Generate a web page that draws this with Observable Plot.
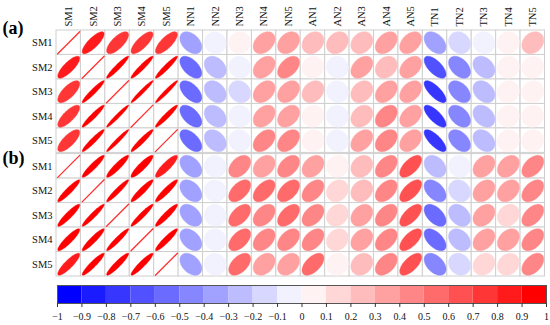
<!DOCTYPE html>
<html><head><meta charset="utf-8">
<script src="https://cdn.jsdelivr.net/npm/d3@7"></script>
<script src="https://cdn.jsdelivr.net/npm/@observablehq/plot@0.6"></script>
<style>body{margin:0;background:#fff} svg{display:block}</style>
</head><body><div id="chart"></div><script>
const rowLabels = ["SM1","SM2","SM3","SM4","SM5"];
const colLabels = ["SM1","SM2","SM3","SM4","SM5","NN1","NN2","NN3","NN4","NN5",
                   "AN1","AN2","AN3","AN4","AN5","TN1","TN2","TN3","TN4","TN5"];
const panelLabels = ["(a)","(b)"];

// panel (a): correlation of SM1..SM5 (rows) with each column
const panelA = [
  [1, 0.8, 0.72, 0.77, 0.75, -0.4, -0.05, 0.05, 0.35, 0.3, 0.22, 0.22, 0.22, 0.38, 0.38, -0.4, -0.15, -0.05, 0.05, 0.22],
  [0.8, 1, 0.95, 0.95, 0.95, -0.55, -0.3, -0.05, 0.35, 0.45, 0.05, -0.05, 0.38, 0.22, 0.38, -0.65, -0.42, -0.3, 0.05, 0.05],
  [0.72, 0.95, 1, 0.97, 0.97, -0.55, -0.3, -0.15, 0.35, 0.35, 0.25, -0.05, 0.25, 0.38, 0.38, -0.75, -0.42, -0.3, 0.05, 0.05],
  [0.77, 0.95, 0.97, 1, 0.95, -0.55, -0.3, -0.05, 0.35, 0.35, 0.05, -0.05, 0.25, 0.4, 0.38, -0.75, -0.42, -0.3, 0.05, 0.05],
  [0.75, 0.95, 0.97, 0.95, 1, -0.55, -0.3, -0.05, 0.42, 0.42, 0.05, -0.05, 0.38, 0.4, 0.38, -0.75, -0.42, -0.3, 0.05, 0.05]
];
// panel (b)
const panelB = [
  [1, 0.93, 0.92, 0.9, 0.87, -0.4, -0.05, 0.4, 0.3, 0.42, 0.32, 0.05, 0.2, 0.45, 0.62, -0.3, -0.05, 0.32, 0.32, 0.45],
  [0.93, 1, 0.95, 0.93, 0.93, -0.4, -0.05, 0.52, 0.52, 0.5, 0.45, 0.18, 0.2, 0.45, 0.62, -0.45, -0.15, 0.32, 0.32, 0.45],
  [0.92, 0.95, 1, 0.95, 0.93, -0.4, -0.05, 0.52, 0.42, 0.52, 0.43, 0.18, 0.3, 0.45, 0.65, -0.52, -0.3, 0.32, 0.18, 0.48],
  [0.9, 0.93, 0.95, 1, 0.93, -0.4, -0.05, 0.52, 0.42, 0.45, 0.45, 0.18, 0.3, 0.45, 0.65, -0.55, -0.3, 0.35, 0.32, 0.45],
  [0.87, 0.93, 0.93, 0.93, 1, -0.4, -0.05, 0.5, 0.32, 0.32, 0.55, 0.05, 0.2, 0.45, 0.65, -0.45, -0.15, 0.18, 0.18, 0.45]
];
const barTicks = [-1,-0.9,-0.8,-0.7,-0.6,-0.5,-0.4,-0.3,-0.2,-0.1,0,0.1,0.2,0.3,0.4,0.5,0.6,0.7,0.8,0.9,1];

// ---- derived ----
const thresholds = barTicks.slice(1, -1);
const ramp = d3.piecewise(d3.interpolateRgb, ["#0000ff", "#ffffff", "#ff0000"]);
const palette = d3.range(20).map(i => d3.color(ramp(i / 19)).formatHex());
const colorScale = {type: "threshold", domain: thresholds, range: palette};
const GAP = 0.05;
const serif = "'Liberation Serif', 'DejaVu Serif', serif";

const cells = [];
[panelA, panelB].forEach((P, p) => P.forEach((row, i) => row.forEach((r, j) => {
  cells.push({id: `${p}-${i}-${j}`, p, row: i, col: j, r, y0: p * (5 + GAP) + i});
})));

const S = 0.9, N = 72;
const pts = [];
for (const c of cells) {
  if (c.r >= 0.999) continue;
  const d = Math.acos(c.r);
  for (let k = 0; k < N; k++) {
    const t = 2 * Math.PI * k / N;
    const ex = Math.cos(t + d / 2) / 2 * S;
    const ey = Math.cos(t - d / 2) / 2 * S;
    pts.push({id: c.id, r: c.r, x: c.col + 0.5 + ex, y: c.y0 + 0.5 - ey});
  }
}
const diag = [];
for (const c of cells) {
  if (c.r < 0.999) continue;
  for (const s of [-1, 1]) diag.push({id: c.id, r: c.r, x: c.col + 0.5 + s * S / 2, y: c.y0 + 0.5 - s * S / 2});
}
const rowItems = [];
[0, 1].forEach(p => rowLabels.forEach((l, i) => rowItems.push({label: l, y: p * (5 + GAP) + i + 0.5})));

const main = Plot.plot({
  width: 550, height: 280,
  marginLeft: 56, marginRight: 5.5, marginTop: 30, marginBottom: 4,
  x: {domain: [0, 20], axis: null},
  y: {domain: [0, 10 + GAP], axis: null, reverse: true},
  color: colorScale,
  style: {background: "white", fontFamily: serif},
  marks: [
    Plot.rect(cells, {x1: d => d.col, x2: d => d.col + 1, y1: d => d.y0, y2: d => d.y0 + 1,
      fill: "white", stroke: "#cfcfcf", strokeWidth: 1}),
    Plot.line(pts, {x: "x", y: "y", z: "id", fill: "r", stroke: "r", strokeWidth: 0.4, curve: "linear-closed"}),
    Plot.line(diag, {x: "x", y: "y", z: "id", stroke: "#ff3030", strokeWidth: 1.3}),
    Plot.text(rowItems, {x: 0, y: "y", text: "label", dx: -4, textAnchor: "end",
      fontFamily: serif, fontSize: 10.5, fill: "#111"}),
    Plot.text(colLabels, {x: (d, i) => i + 0.5, y: -0.16, text: d => d, rotate: -90, textAnchor: "start",
      fontFamily: serif, fontSize: 10.5, fill: "#111"}),
    Plot.text(panelLabels, {frameAnchor: "left", y: (d, i) => i === 0 ? -0.08 : 5.23, text: d => d,
      dx: -54, textAnchor: "start", fontFamily: serif, fontWeight: "bold", fontSize: 18, fill: "#000"})
  ]
});

const bins = barTicks.slice(0, -1).map((t, i) => ({x1: t, x2: barTicks[i + 1], mid: (t + barTicks[i + 1]) / 2}));
const fmt = d3.format("~g");
const bar = Plot.plot({
  width: 550, height: 45,
  marginLeft: 57, marginRight: 4, marginTop: 5, marginBottom: 22,
  x: {domain: [-1, 1], axis: null},
  y: {domain: [0, 1], axis: null},
  color: colorScale,
  style: {background: "white", fontFamily: serif},
  marks: [
    Plot.rect(bins, {x1: "x1", x2: "x2", y1: 0, y2: 1, fill: "mid"}),
    Plot.frame({stroke: "#555", strokeWidth: 1}),
    Plot.ruleX(barTicks, {x: d => d, y1: 0, y2: -0.22, stroke: "#333", strokeWidth: 1}),
    Plot.text(barTicks, {x: d => d, y: -0.72, text: d => fmt(d), fontFamily: serif, fontSize: 10, fill: "#111"})
  ]
});

const root = document.getElementById("chart");
root.appendChild(main);
root.appendChild(bar);
</script></body></html>
